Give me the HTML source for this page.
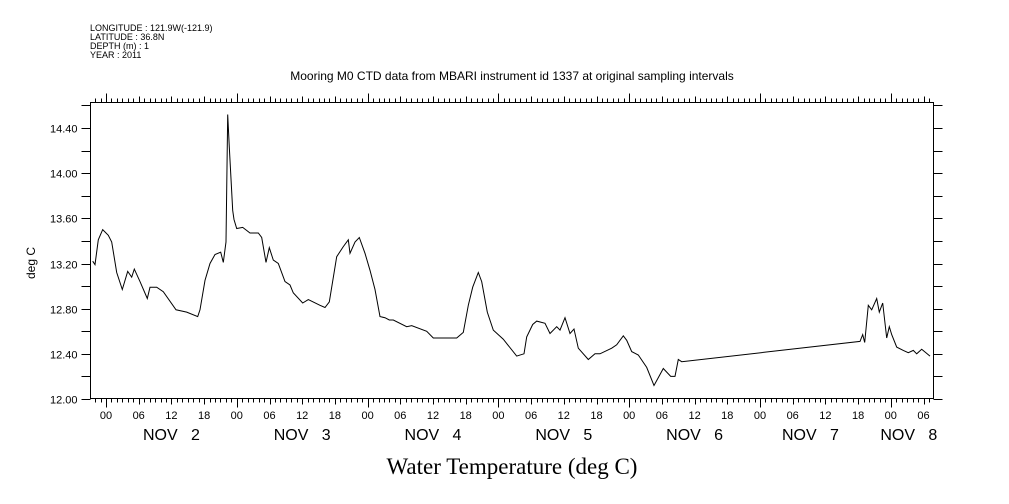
<!DOCTYPE html>
<html><head><meta charset="utf-8"><style>
html,body{margin:0;padding:0;background:#fff;}
svg{display:block;font-family:"Liberation Sans",sans-serif;}
text{white-space:pre;}
</style></head><body>
<svg id="chart" width="1009" height="504" viewBox="0 0 1009 504">
<g font-size="9" fill="#000">
<text x="90" y="31">LONGITUDE : 121.9W(-121.9)</text>
<text x="90" y="40">LATITUDE : 36.8N</text>
<text x="90" y="49">DEPTH (m) : 1</text>
<text x="90" y="58">YEAR : 2011</text>
</g>
<text x="512" y="80" text-anchor="middle" font-size="12">Mooring M0 CTD data from MBARI instrument id 1337 at original sampling intervals</text>
<text transform="translate(35,263) rotate(-90)" text-anchor="middle" font-size="12">deg C</text>
<text x="512" y="474" text-anchor="middle" font-size="23" font-family="'Liberation Serif',serif">Water Temperature (deg C)</text>
<rect x="90.5" y="102.5" width="843" height="296" fill="none" stroke="#000" stroke-width="1"/>
<g id="axes"></g>
<path id="series" fill="none" stroke="#000" stroke-width="1"/>
</svg>
<script>
const hours = [-2.44,-2.02,-1.41,-0.61,0.42,1.05,1.96,2.99,3.98,4.72,5.19,6.24,7.58,8.07,9.30,10.51,12.84,14.81,16.83,17.25,18.17,19.08,20.00,21.05,21.52,22.02,22.33,22.62,23.25,23.49,23.98,25.08,26.42,27.94,28.57,29.36,29.96,30.70,31.61,32.84,33.76,34.37,36.09,37.12,39.27,40.18,40.97,42.33,43.54,44.46,44.77,45.69,46.48,47.52,48.44,49.36,50.28,51.19,51.98,52.72,55.17,56.09,58.84,60.06,64.35,65.56,66.48,67.28,68.31,68.94,69.96,71.06,72.90,75.36,76.70,77.19,78.29,79.03,80.55,81.47,82.70,83.30,84.22,85.14,85.87,86.66,88.50,89.72,90.64,92.79,93.71,94.92,95.54,96.46,97.67,99.21,100.55,102.26,103.61,104.40,105.01,105.63,138.35,138.84,139.21,139.87,140.50,141.41,141.89,142.51,143.25,143.72,144.17,145.08,146.29,147.21,148.13,148.75,149.67,151.19];
const temps = [13.22,13.19,13.41,13.50,13.45,13.39,13.12,12.97,13.13,13.08,13.15,13.04,12.89,12.99,12.99,12.95,12.79,12.77,12.73,12.79,13.05,13.20,13.28,13.30,13.21,13.39,14.52,14.23,13.67,13.59,13.51,13.52,13.47,13.47,13.43,13.21,13.34,13.23,13.20,13.04,13.01,12.94,12.85,12.88,12.83,12.81,12.86,13.26,13.35,13.41,13.29,13.39,13.43,13.29,13.14,12.97,12.73,12.72,12.70,12.70,12.64,12.65,12.60,12.54,12.54,12.59,12.83,12.99,13.12,13.04,12.77,12.61,12.53,12.38,12.40,12.55,12.66,12.69,12.67,12.58,12.64,12.61,12.72,12.58,12.62,12.45,12.35,12.40,12.40,12.45,12.48,12.56,12.52,12.42,12.39,12.28,12.12,12.27,12.20,12.20,12.35,12.33,12.51,12.57,12.50,12.83,12.79,12.89,12.77,12.85,12.54,12.64,12.57,12.46,12.43,12.41,12.43,12.40,12.44,12.38];
const yTickValues = [12.0,12.2,12.4,12.6,12.8,13.0,13.2,13.4,13.6,13.8,14.0,14.2,14.4,14.6];
const yTickLabels = ["12.00","","12.40","","12.80","","13.20","","13.60","","14.00","","14.40",""];
const dayLabels = ["NOV   2","NOV   3","NOV   4","NOV   5","NOV   6","NOV   7","NOV   8"];
const hourLabels = ["00","06","12","18"];

const X0=106, PXH=130.8/24, L=90.5, R=933.5, T=102.5, B=398.5;
const xs = h => X0 + h*PXH;
const ys = v => 399 - (v-12)*271/2.4;
const NS="http://www.w3.org/2000/svg";
const axes=document.getElementById('axes');
function line(x1,y1,x2,y2,name){const l=document.createElementNS(NS,'line');l.setAttribute('x1',x1);l.setAttribute('y1',y1);l.setAttribute('x2',x2);l.setAttribute('y2',y2);l.setAttribute('stroke','#000');


axes.appendChild(l);}
function text(x,y,s,size,anchor,name){const t=document.createElementNS(NS,'text');t.setAttribute('x',x);t.setAttribute('y',y);t.setAttribute('font-size',size);t.setAttribute('text-anchor',anchor);t.textContent=s;


axes.appendChild(t);}
for(let h=-2;h<=151;h++){
  const x=Math.round(xs(h))+0.5; if(x<L||x>R)continue;
  const m=((h%24)+24)%24;
  const len = m===0?9:(m%6===0?6:4);
  line(x,B,x,B+len,'x-tick');
  line(x,T,x,T-len,'x-tick-top');
  if(m%6===0) text(xs(h),419,hourLabels[m/6],11,'middle','x-hour-label');
}
for(let d=0;d<dayLabels.length;d++){
  let cx=xs(d*24+12); if(d===6) cx=xs(d*24)+18;
  if(d===5) cx=xs(d*24+12)-15;
  text(cx,440,dayLabels[d],16,'middle','x-day-label');
}
yTickValues.forEach((v,i)=>{const y=Math.round(ys(v))+0.5; if(y<T-1)return;
  line(L-9,y,L,y,'y-tick'); line(R,y,R+9,y,'y-tick-right');
  if(yTickLabels[i]) text(L-13,y+4,yTickLabels[i],11,'end','y-tick-label');});
let d='';hours.forEach((h,i)=>{d+=(i?'L':'M')+xs(h).toFixed(1)+' '+ys(temps[i]).toFixed(1)+' ';});
document.getElementById('series').setAttribute('d',d);
</script>
</body></html>
